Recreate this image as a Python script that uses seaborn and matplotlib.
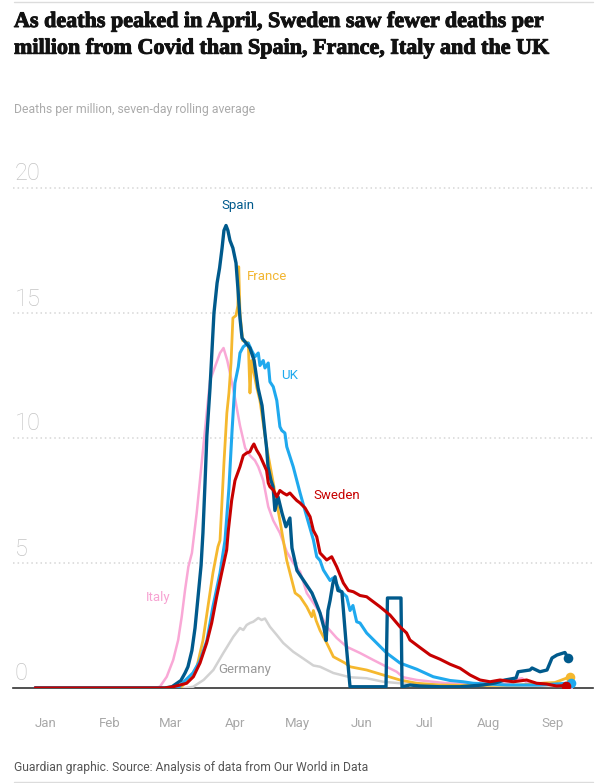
import matplotlib
matplotlib.use("Agg")
import matplotlib.pyplot as plt
import matplotlib.patheffects as pe
import seaborn as sns
import pandas as pd
from matplotlib.lines import Line2D

# ---------------- data (day = days since 1 Jan 2020, deaths per million, 7-day avg)
germany_day = [5, 77, 81, 86, 90.7, 95.5, 100.3, 103.5, 105.1, 106.7, 108.3, 109.9, 112.3, 113.9, 115.5,
               117.9, 121.2, 124.3, 129.1, 133.9, 138.8, 142, 148.4, 156.4, 164.4, 172.4, 180.4, 199.7,
               228.5, 261.2]
germany_val = [0, 0, 0.05, 0.32, 0.72, 1.4, 2.05, 2.4, 2.32, 2.52, 2.6, 2.65, 2.8, 2.72, 2.78,
               2.45, 2.12, 1.8, 1.45, 1.18, 0.9, 0.85, 0.6, 0.43, 0.39, 0.25, 0.19, 0.12,
               0.1, 0.08]

italy_day = [5, 62.6, 65, 68.3, 71.4, 73.8, 75.5, 77.1, 78.7, 80.4, 82.7, 85.1, 87.5, 89.1, 91.5, 93.9,
             95.6, 97.4, 98.7, 101.1, 103.5, 106, 108.3, 110.7, 112.3, 114.7, 117.1, 119.5, 122.7,
             126, 129.1, 132.4, 135.6, 138.8, 142, 145.2, 150, 154.8, 161.2, 167.6, 174, 178.8, 182,
             188.5, 202.9, 218.9, 233.3, 236.2, 239.1, 241.5, 252.5, 261.2]
italy_val = [0, 0, 0.05, 0.45, 1.12, 1.92, 2.85, 3.92, 4.85, 5.4, 7.0, 9.0, 11.0, 12.3, 12.85, 13.4,
             13.6, 13.1, 12.6, 11.6, 10.5, 9.6, 9.3, 9.1, 8.85, 8.3, 7.25, 6.7, 6.2,
             5.45, 5.0, 4.65, 3.8, 3.4, 3.0, 2.45, 2.0, 1.65, 1.4, 1.12, 0.85, 0.65, 0.43,
             0.32, 0.19, 0.15, 0.18, 0.35, 0.39, 0.2, 0.12, 0.1]

france_day = [5, 74.7, 78.5, 82.8, 85.7, 88.1, 90.5, 92.9, 93.9, 95.8, 97.2, 98.2, 99.2, 100.1, 101.6,
              102.5, 102.9, 103.5, 104.8, 107.5, 108.3, 109.1, 111.5, 113.1, 116.3, 119.5, 122.7,
              126, 130, 132.4, 135.6, 138, 138.8, 140.1, 142, 145.2, 148.4, 154, 156.4, 164.4, 172.4,
              180.4, 188.5, 199.7, 218.9, 238.1, 249.7, 254.9, 262.2]
france_val = [0, 0, 0.3, 0.85, 1.9, 3.25, 4.6, 5.65, 5.9, 9.0, 11.0, 11.8, 13.0, 14.8, 14.9,
              15.3, 16.85, 15.0, 13.9, 13.8, 11.8, 13.1, 12.05, 11.5, 9.65, 8.2, 6.7,
              5.1, 3.8, 3.65, 3.25, 2.85, 3.1, 2.7, 2.3, 1.8, 1.25, 1.0, 0.85, 0.72, 0.52,
              0.32, 0.19, 0.12, 0.1, 0.12, 0.2, 0.22, 0.45]

uk_day = [5, 73.8, 77.1, 80.9, 84.3, 87.6, 90.5, 93.9, 96.3, 98.2, 99.7, 101.1, 102.7, 103.5, 105.1,
          107.5, 109.1, 110.7, 112.3, 113.1, 114.7, 115.5, 117.1, 117.9, 119.5, 121.2, 122.7, 123.6,
          125.1, 126, 129.1, 132.4, 135.6, 138.8, 140.4, 142, 143.6, 146.8, 148.2, 151.6, 154.8,
          156.4, 157.8, 159.6, 161.2, 164.4, 169.2, 174, 180.4, 188.5, 196.4, 204.5, 210.7, 215.5,
          231.7, 247.7, 262.7]
uk_val = [0, 0, 0.3, 0.6, 1.1, 1.9, 3.25, 4.6, 5.9, 8.0, 10.3, 12.2, 12.85, 13.4, 13.65,
          13.8, 13.5, 13.25, 13.4, 12.9, 13.1, 12.8, 13.0, 12.25, 12.05, 11.5, 10.45, 10.3,
          10.2, 9.65, 8.85, 7.8, 6.85, 5.92, 5.25, 5.1, 4.72, 4.3, 4.4, 3.9, 3.65,
          3.1, 3.3, 2.65, 2.6, 2.2, 1.8, 1.4, 1.0, 0.75, 0.45, 0.3, 0.25, 0.19,
          0.12, 0.12, 0.2]

spain_day = [5, 67.4, 70.8, 75.1, 77.1, 78.5, 80.4, 81.9, 83.3, 84.8, 85.7, 86.7, 87.6, 89.1, 91,
             92.5, 93.7, 94.9, 95.8, 96.8, 97.7, 98.7, 100.1, 101.6, 102.5, 103.5, 104.5, 106.4,
             108.3, 110.3, 112.2, 114.1, 115.5, 116.3, 117, 118.4, 119.4, 120.3, 121.8, 123.7, 125.6,
             127.5, 128.5, 130.9, 133.3, 135.7, 138.1, 140.1, 142, 143.9, 144.9, 145.8, 146.8,
             148.2, 149.2, 150.6, 152.5, 154.5, 156.4, 173.7, 174.4, 180.9, 181.4, 185.2, 190,
             199.7, 209.3, 220.3, 226.1, 230.9, 236.2, 237.2, 242.9, 243.9, 247.7, 251.1, 253.5,
             255.9, 259.7, 261.2]
spain_val = [0, 0, 0.05, 0.3, 0.6, 0.85, 1.5, 2.4, 3.6, 4.9, 6.2, 8.2, 10.1, 12.0, 15.0,
             16.2, 16.8, 17.6, 18.3, 18.5, 18.3, 17.9, 17.6, 17.0, 16.0, 14.8, 14.0, 13.8,
             13.6, 13.1, 12.0, 11.3, 10.2, 9.6, 8.85, 8.3, 8.05, 7.1, 7.65, 7.0, 6.45,
             6.8, 5.6, 4.7, 4.4, 4.1, 3.8, 3.4, 3.0, 2.4, 1.9, 3.1, 3.5,
             4.2, 4.45, 3.9, 3.85, 1.8, 0.05, 0.05, 3.6, 3.6, 0.05, 0.12, 0.08,
             0.05, 0.05, 0.12, 0.2, 0.32, 0.4, 0.65, 0.72, 0.8, 0.65, 0.72, 1.2,
             1.32, 1.42, 1.2]

sweden_day = [5, 67.4, 71.4, 77.9, 81.1, 84.3, 87.5, 89.9, 92.3, 94.7, 97.1, 97.9, 99.5, 101.1, 103.5,
              105.1, 106.7, 108.3, 109.4, 110.2, 111.5, 113.1, 114.7, 116.3, 117.1, 117.9, 119.5,
              121.2, 122.7, 124.3, 126, 127.5, 129.1, 130.8, 132.4, 134.8, 137.2, 138.8, 140.4, 142,
              145.2, 147.6, 150, 153.2, 155.6, 158, 161.2, 164.4, 166.8, 170.8, 175.6, 180.4, 183.6,
              185.2, 190, 194.9, 199.7, 204.5, 209.3, 214.1, 218.9, 223.7, 228.5, 234.9, 241.3,
              246.1, 250.9, 255.7, 260.2]
sweden_val = [0, 0, 0.05, 0.19, 0.45, 1.0, 1.8, 2.6, 3.65, 4.6, 5.52, 6.3, 7.5, 8.3, 8.85,
              9.3, 9.4, 9.45, 9.65, 9.76, 9.52, 9.3, 9.0, 8.7, 8.2, 8.05, 7.92,
              7.65, 7.9, 7.8, 7.72, 7.8, 7.65, 7.5, 7.4, 7.2, 6.85, 6.3, 6.05, 5.4,
              5.12, 5.25, 4.85, 4.2, 3.9, 3.85, 3.7, 3.65, 3.5, 3.25, 2.92, 2.45, 2.2,
              1.92, 1.62, 1.32, 1.15, 0.95, 0.79, 0.52, 0.32, 0.25, 0.32, 0.25, 0.32,
              0.19, 0.16, 0.08, 0.1]

countries = ["Germany", "Italy", "France", "UK", "Spain", "Sweden"]
series = {
    "Germany": (germany_day, germany_val),
    "Italy": (italy_day, italy_val),
    "France": (france_day, france_val),
    "UK": (uk_day, uk_val),
    "Spain": (spain_day, spain_val),
    "Sweden": (sweden_day, sweden_val),
}

month_labels = ["Jan", "Feb", "Mar", "Apr", "May", "Jun", "Jul", "Aug", "Sep"]
month_label_days = [10, 41, 70, 101, 131, 162, 192, 223, 254]
month_start_days = [31, 60, 91, 121, 152, 182, 213, 244]
y_ticks = [0, 5, 10, 15, 20]

title = ("As deaths peaked in April, Sweden saw fewer deaths per\n"
         "million from Covid than Spain, France, Italy and the UK")
subtitle = "Deaths per million, seven-day rolling average"
source = "Guardian graphic. Source: Analysis of data from Our World in Data"

# ---------------- style
colors = {"Germany": "#d2d2d2", "Italy": "#f9a8d6", "France": "#f5b82e",
          "UK": "#1fa9ee", "Spain": "#005a8c", "Sweden": "#c70000"}
label_colors = {"Germany": "#9a9a9a", "Italy": "#f7a3d2", "France": "#f2b632",
                "UK": "#1fa9ee", "Spain": "#005a8c", "Sweden": "#c70000"}
widths = {"Germany": 1.8, "Italy": 1.8, "France": 2.0, "UK": 2.2, "Spain": 2.4, "Sweden": 2.2}
label_pos = {"Spain": (102.6, 19.3), "France": (116.6, 16.45), "UK": (127.2, 12.5),
             "Sweden": (150.2, 7.7), "Italy": (64.2, 3.6), "Germany": (106.0, 0.72)}

frames = [pd.DataFrame({"day": series[c][0], "deaths": series[c][1], "country": c}) for c in countries]
df = pd.concat(frames, ignore_index=True)

sns.set_theme(style="white")
plt.rcParams["font.family"] = ["Roboto", "DejaVu Sans"]

W, H = 600, 783
fig = plt.figure(figsize=(W / 100, H / 100), dpi=100)
ax = fig.add_axes([13 / W, 1 - 688 / H, 580 / W, 512.5 / H])

for c in countries:
    sub = df[df["country"] == c]
    sns.lineplot(data=sub, x="day", y="deaths", color=colors[c], linewidth=widths[c],
                 estimator=None, sort=False, ax=ax, zorder=3)
for c in countries:
    sub = df[df["country"] == c]
    ax.scatter(sub["day"].iloc[-1], sub["deaths"].iloc[-1], s=48, color=colors[c],
               zorder=4, linewidths=0)

ax.set_xlim(-5.6, 273.2)
ax.set_ylim(0, 20.5)
ax.set_xlabel("")
ax.set_ylabel("")

# grid lines
for v in y_ticks[1:]:
    ax.axhline(v, color="#d6d6d6", lw=1.1, ls=(0, (1, 2)), zorder=1)
ax.set_yticks([])

# y labels above grid lines
for v in y_ticks:
    ax.text(0.003, v + 0.3, str(v), transform=ax.get_yaxis_transform(), fontsize=17,
            color="#c4c4c4", fontweight="light", ha="left", va="baseline")

# x axis
ax.set_xticks(month_label_days)
ax.set_xticklabels(month_labels, fontsize=9.5, color="#a8a8a8")
ax.tick_params(axis="x", which="major", length=0, pad=21)
ax.set_xticks(month_start_days, minor=True)
ax.tick_params(axis="x", which="minor", length=11, width=1, color="#d0d0d0", direction="out")

for s in ["top", "right", "left"]:
    ax.spines[s].set_visible(False)
ax.spines["bottom"].set_color("#333333")
ax.spines["bottom"].set_linewidth(1.2)
ax.spines["bottom"].set_zorder(2)

# series labels
for c in countries:
    x, y = label_pos[c]
    ax.text(x, y, c, color=label_colors[c], fontsize=9.5, ha="center", va="center", zorder=5)

# titles
fig.text(14 / W, 1 - 12 / H, title, fontsize=15.9, fontweight="bold",
         family=["Liberation Serif", "DejaVu Serif"], color="#121212",
         ha="left", va="top", linespacing=1.45,
         path_effects=[pe.withStroke(linewidth=0.7, foreground="#121212")])
fig.text(14 / W, 1 - 109 / H, subtitle, fontsize=8.8, color="#ababab", ha="left", va="center")
fig.text(14 / W, 1 - 767 / H, source, fontsize=8.7, color="#555555", ha="left", va="center")

fig.add_artist(Line2D([14 / W, 593 / W], [1 - 2 / H, 1 - 2 / H], color="#dcdcdc", lw=1))
fig.add_artist(Line2D([14 / W, 593 / W], [1 - 782 / H, 1 - 782 / H], color="#dcdcdc", lw=1))

fig.savefig("out.png", dpi=100)
